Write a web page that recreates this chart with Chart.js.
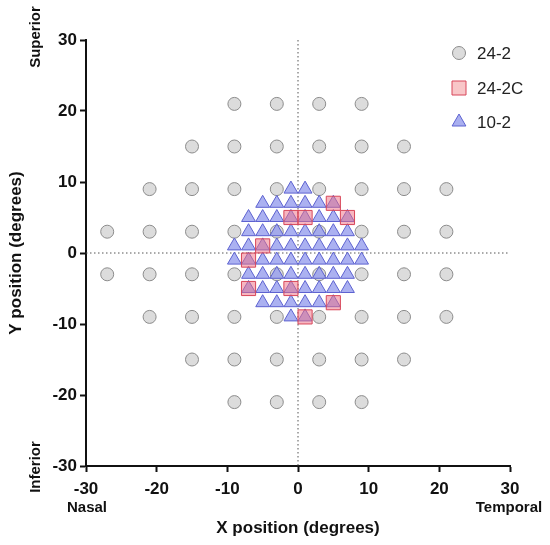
<!DOCTYPE html>
<html>
<head>
<meta charset="utf-8">
<script src="https://cdn.jsdelivr.net/npm/chart.js@4"></script>
<style>
  html, body { margin: 0; padding: 0; background: #fff; }
  #wrap { width: 550px; height: 545px; }
</style>
</head>
<body>
<div id="wrap"><canvas id="vf"></canvas></div>
<script>
// test grids, [x, y] in degrees
const grid242 = [
  [-9,21],[-3,21],[3,21],[9,21],
  [-15,15],[-9,15],[-3,15],[3,15],[9,15],[15,15],
  [-21,9],[-15,9],[-9,9],[-3,9],[3,9],[9,9],[15,9],[21,9],
  [-27,3],[-21,3],[-15,3],[-9,3],[-3,3],[3,3],[9,3],[15,3],[21,3],
  [-27,-3],[-21,-3],[-15,-3],[-9,-3],[-3,-3],[3,-3],[9,-3],[15,-3],[21,-3],
  [-21,-9],[-15,-9],[-9,-9],[-3,-9],[3,-9],[9,-9],[15,-9],[21,-9],
  [-15,-15],[-9,-15],[-3,-15],[3,-15],[9,-15],[15,-15],
  [-9,-21],[-3,-21],[3,-21],[9,-21]
];
const grid242C = [
  [5,7],[-1,5],[1,5],[7,5],[-5,1],[-7,-1],[-7,-5],[-1,-5],[5,-7],[1,-9]
];
const grid102 = [
  [-1,9],[1,9],
  [-5,7],[-3,7],[-1,7],[1,7],[3,7],[5,7],
  [-7,5],[-5,5],[-3,5],[-1,5],[1,5],[3,5],[5,5],[7,5],
  [-7,3],[-5,3],[-3,3],[-1,3],[1,3],[3,3],[5,3],[7,3],
  [-9,1],[-7,1],[-5,1],[-3,1],[-1,1],[1,1],[3,1],[5,1],[7,1],[9,1],
  [-9,-1],[-7,-1],[-5,-1],[-3,-1],[-1,-1],[1,-1],[3,-1],[5,-1],[7,-1],[9,-1],
  [-7,-3],[-5,-3],[-3,-3],[-1,-3],[1,-3],[3,-3],[5,-3],[7,-3],
  [-7,-5],[-5,-5],[-3,-5],[-1,-5],[1,-5],[3,-5],[5,-5],[7,-5],
  [-5,-7],[-3,-7],[-1,-7],[1,-7],[3,-7],[5,-7],
  [-1,-9],[1,-9]
];
const axisTicks = [-30, -20, -10, 0, 10, 20, 30];

const toXY = arr => arr.map(p => ({ x: p[0], y: p[1] }));

const series = [
  { label: '24-2', data: toXY(grid242), pointStyle: 'circle', pointRadius: 6.5,
    backgroundColor: '#dcdcdc', borderColor: '#8c8c8c', order: 3 },
  { label: '10-2', data: toXY(grid102), pointStyle: 'triangle', pointRadius: 8,
    backgroundColor: 'rgba(150,158,238,0.8)', borderColor: '#5d62d0', order: 2 },
  { label: '24-2C', data: toXY(grid242C), pointStyle: 'rect', pointRadius: 10,
    backgroundColor: 'rgba(240,110,130,0.5)', borderColor: '#d8475a', order: 1 }
];

const FONT = 'Liberation Sans, Arial, sans-serif';

// legend marker, drawn by hand
function marker(ctx, style, x, y, fill, stroke) {
  ctx.save();
  ctx.fillStyle = fill;
  ctx.strokeStyle = stroke;
  ctx.lineWidth = 1;
  ctx.beginPath();
  if (style === 'circle') {
    ctx.arc(x, y, 6.5, 0, Math.PI * 2);
  } else if (style === 'rect') {
    ctx.rect(x - 7, y - 7, 14, 14);
  } else {
    ctx.moveTo(x, y - 8);
    ctx.lineTo(x + 6.9, y + 4);
    ctx.lineTo(x - 6.9, y + 4);
    ctx.closePath();
  }
  ctx.fill();
  ctx.stroke();
  ctx.restore();
}

// dotted zero lines, side labels and legend inside plot
const extras = {
  id: 'extras',
  beforeDatasetsDraw(chart) {
    const { ctx, chartArea: a, scales } = chart;
    const x0 = scales.x.getPixelForValue(0);
    const y0 = scales.y.getPixelForValue(0);
    ctx.save();
    ctx.strokeStyle = '#555';
    ctx.lineWidth = 1;
    ctx.setLineDash([1.5, 2.5]);
    ctx.beginPath();
    ctx.moveTo(x0, a.top); ctx.lineTo(x0, a.bottom);
    ctx.moveTo(a.left, y0); ctx.lineTo(a.right, y0);
    ctx.stroke();
    ctx.restore();
  },
  afterDraw(chart) {
    const { ctx } = chart;
    ctx.save();
    ctx.fillStyle = '#111';
    ctx.font = 'bold 15px ' + FONT;
    ctx.textBaseline = 'middle';
    // rotated side labels
    ctx.save();
    ctx.translate(36, 37); ctx.rotate(-Math.PI / 2);
    ctx.textAlign = 'center'; ctx.fillText('Superior', 0, 0);
    ctx.restore();
    ctx.save();
    ctx.translate(36, 467); ctx.rotate(-Math.PI / 2);
    ctx.textAlign = 'center'; ctx.fillText('Inferior', 0, 0);
    ctx.restore();
    ctx.textAlign = 'center';
    ctx.fillText('Nasal', 87, 508);
    ctx.fillText('Temporal', 509, 508);

    // legend
    const items = [
      { name: '24-2', style: 'circle', fill: '#dcdcdc', stroke: '#8c8c8c', y: 53 },
      { name: '24-2C', style: 'rect', fill: '#f8c6c8', stroke: '#d8475a', y: 88 },
      { name: '10-2', style: 'triangle', fill: '#a9aff0', stroke: '#5d62d0', y: 122 }
    ];
    ctx.font = '17px ' + FONT;
    ctx.textAlign = 'left';
    items.forEach(it => {
      marker(ctx, it.style, 459, it.y, it.fill, it.stroke);
      ctx.fillStyle = '#222';
      ctx.fillText(it.name, 477, it.y + 1);
    });
    ctx.restore();
  }
};

const axisCommon = {
  type: 'linear',
  min: -30,
  max: 30,
  afterBuildTicks: s => { s.ticks = axisTicks.map(v => ({ value: v })); },
  grid: { display: true, drawOnChartArea: false, drawTicks: true, tickLength: 6,
          color: '#111', tickWidth: 2 },
  border: { display: true, color: '#111', width: 2 },
  ticks: { color: '#111', font: { family: FONT, size: 17, weight: 'bold' }, padding: 3 }
};

new Chart(document.getElementById('vf'), {
  type: 'scatter',
  data: { datasets: series.map(s => Object.assign({ borderWidth: 1, pointHoverRadius: s.pointRadius }, s)) },
  options: {
    responsive: true,
    maintainAspectRatio: false,
    animation: false,
    layout: { padding: { top: 40, right: 40, left: 0, bottom: 0 } },
    plugins: { legend: { display: false }, tooltip: { enabled: false } },
    scales: {
      x: Object.assign({}, axisCommon, {
        position: 'bottom',
        afterFit: s => { s.height = 79; },
        ticks: Object.assign({}, axisCommon.ticks, { padding: 7 }),
        title: { display: true, text: 'X position (degrees)', color: '#111',
                 font: { family: FONT, size: 17, weight: 'bold' }, padding: { top: 0, bottom: 6 } }
      }),
      y: Object.assign({}, axisCommon, {
        position: 'left',
        afterFit: s => { s.width = 86; },
        title: { display: true, text: 'Y position (degrees)', color: '#111',
                 font: { family: FONT, size: 17, weight: 'bold' }, padding: { top: 6, bottom: 0 } }
      })
    }
  },
  plugins: [extras]
});
</script>
</body>
</html>
